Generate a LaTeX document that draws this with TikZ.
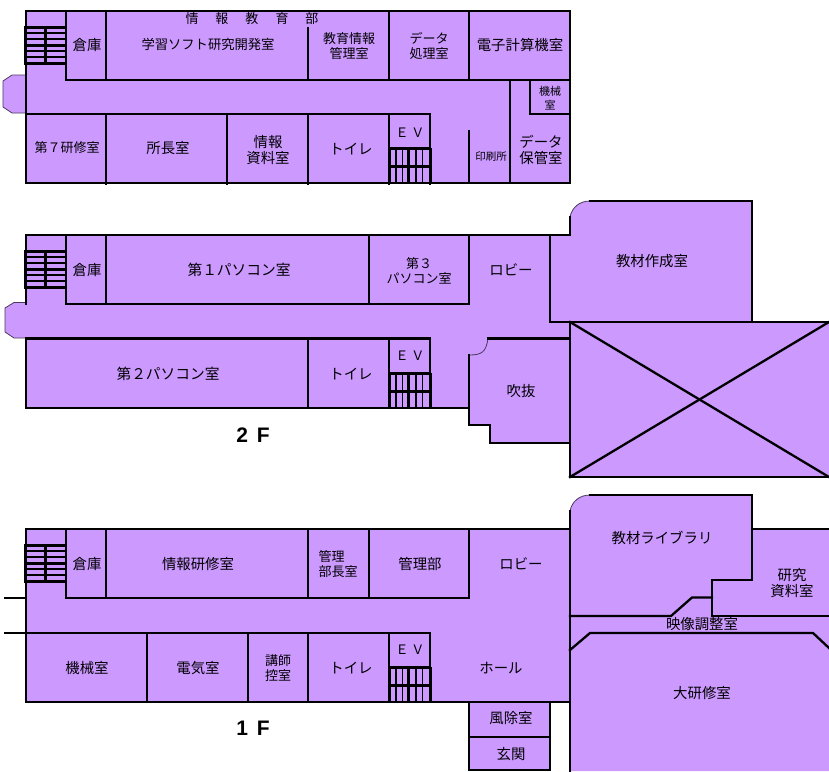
\documentclass[tikz,border=0pt]{standalone}
\usepackage{fontspec}
\setmainfont{Noto Sans CJK JP}
\newfontfamily\floorfont{Liberation Sans}[BoldFont={Liberation Sans Bold}]
\definecolor{roomcolor}{HTML}{CC99FF}
\definecolor{edgecolor}{HTML}{4A3A5C}
\newcommand{\fs}[2]{\fontsize{#1}{#2}\selectfont}

\begin{document}
\begin{tikzpicture}[x=1pt,y=-1pt]
\tikzstyle{wall}=[draw=black,line width=2.3pt,line cap=rect];
\tikzstyle{stairline}=[draw=black,line width=1.3pt];
\tikzstyle{stairbar}=[draw=black,line width=3pt];
\tikzstyle{rim}=[draw=edgecolor,line width=0.8pt];
\tikzstyle{room}=[font=\fs{13}{15},align=center,inner sep=0pt,text=black,yshift=-0.8pt];
\tikzstyle{big}=[room,font=\fs{14.4}{16}];
\tikzstyle{small}=[room,font=\fs{11}{14}];
\tikzstyle{floorname}=[font=\floorfont\bfseries\fs{21}{21},inner sep=0pt];
\useasboundingbox (0,0) rectangle (829,771);

% fills
\fill[roomcolor] (26,11) -- (570,11) -- (570,183) -- (26,183) -- (26,113) -- (12,113) -- (3,107) -- (3,81) -- (12,75) -- (26,75) -- cycle;
\fill[roomcolor] (26,235) -- (570,235) -- (570,217) .. controls (572,207) and (580,201) .. (590,201) -- (752,201) -- (752,322) -- (829,322) -- (829,477) -- (570,477) -- (570,443) -- (490,443) -- (490,425) -- (469,425) -- (469,408) -- (26,408) -- (26,338) -- (14,338) -- (5,332) -- (5,308) -- (14,302.5) -- (26,302.5) -- cycle;
\fill[roomcolor] (26,529) -- (570,529) -- (570,511) .. controls (572,501) and (580,495) .. (590,495) -- (752,495) -- (752,529) -- (829,529) -- (829,771) -- (570,771) -- (570,702) -- (550,702) -- (550,770) -- (469,770) -- (469,702) -- (26,702) -- cycle;

% bumps and curved corners
\draw[rim] (26,113) -- (12,113) -- (3,107) -- (3,81) -- (12,75) -- (26,75);
\draw[rim] (26,338) -- (14,338) -- (5,332) -- (5,308) -- (14,302.5) -- (26,302.5);
\draw[rim] (570,217) .. controls (572,207) and (580,201) .. (590,201);
\draw[rim] (570,511) .. controls (572,501) and (580,495) .. (590,495);
\draw[rim] (469,355) .. controls (482,355) and (486,352) .. (488,338.5);

% third floor walls
\draw[wall] (26,183) -- (26,11) -- (570,11) -- (570,183) -- cycle;
\draw[wall] (66,11) -- (66,80) -- (570,80);
\draw[wall] (26,114) -- (430,114) -- (430,184);
\draw[wall] (530,80) -- (530,114) -- (570,114);
\draw[wall] (510,80) -- (510,183);
\draw[wall] (469,131) -- (469,183);
\draw[wall] (308,28) -- (308,80);
\foreach \wx in {106,389,469} \draw[wall] (\wx,11) -- (\wx,80);
\foreach \wx in {106,227,308,389} \draw[wall] (\wx,114) -- (\wx,184);

% second floor walls
\draw[wall] (26,304) -- (26,235) -- (570,235) -- (570,217);
\draw[wall] (590,201) -- (752,201) -- (752,322) -- (550,322) -- (550,235);
\draw[wall] (66,235) -- (66,304) -- (369,304) -- (369,235);
\draw[wall] (106,235) -- (106,304);
\draw[wall] (369,304) -- (469,304) -- (469,235);
\draw[wall] (430,338.5) -- (26,338.5) -- (26,408) -- (469,408);
\draw[wall] (308,338.5) -- (308,408);
\draw[wall] (389,338.5) -- (389,408);
\draw[wall] (430,338.5) -- (430,408);
\draw[wall] (469,355) -- (469,425) -- (490,425) -- (490,443) -- (570,443);
\draw[wall] (488,338.5) -- (570,338.5);
\draw[wall] (570,322) -- (570,477) -- (829,477);
\draw[wall] (570,322) -- (829,322);
\draw[wall] (570,322) -- (829,477);
\draw[wall] (570,477) -- (829,322);

% first floor walls
\draw[wall] (26,702) -- (26,529) -- (570,529);
\draw[wall] (570,771) -- (570,511);
\draw[wall] (590,495) -- (752,495) -- (752,580) -- (712,580) -- (712,616);
\draw[wall] (752,529) -- (829,529);
\draw[wall] (66,529) -- (66,598) -- (469,598) -- (469,529);
\draw[wall] (5,598) -- (26,598);
\draw[wall] (5,633) -- (430,633) -- (430,702);
\foreach \wx in {106,308,369} \draw[wall] (\wx,529) -- (\wx,598);
\foreach \wx in {147,248,308,389} \draw[wall] (\wx,633) -- (\wx,702);
\draw[wall] (26,702) -- (570,702);
\draw[wall] (469,702) -- (469,770) -- (550,770) -- (550,702);
\draw[wall] (469,737) -- (550,737);
\draw[wall] (570,616) -- (671,616) -- (692,597.5) -- (712,597.5);
\draw[wall] (712,616) -- (829,616);
\draw[wall] (570,650) -- (590,633) -- (813,633) -- (829,648);

% stairs
\foreach \base in {11,235,529} {
	\foreach \dy in {22,28,40,46} \draw[stairline] (26,\base+\dy) -- (66,\base+\dy);
	\foreach \dy in {16,34,52} \draw[stairbar] (24,\base+\dy) -- (66,\base+\dy);
	\draw[stairbar] (25,\base+16) -- (25,\base+52);
	\draw[stairbar] (45,\base+16) -- (45,\base+52);
}
\foreach \base in {148,373,667} {
	\foreach \dx in {396,402.7,416,422.7} \draw[stairline] (\dx,\base) -- (\dx,\base+35);
	\draw[stairbar] (388,\base) -- (431,\base);
	\draw[stairbar] (388,\base+18) -- (431,\base+18);
	\draw[stairbar] (408.5,\base) -- (408.5,\base+35);
	\draw[stairbar] (389,\base) -- (389,\base+36);
	\draw[stairbar] (430,\base) -- (430,\base+36);
}

% third floor labels
\node[room] (dept) at (252,18) {情\hspace{17pt}報\hspace{17pt}教\hspace{17pt}育\hspace{17pt}部};
\node[big] (store3) at (87,44) {倉庫};
\node[room,font=\fs{13.3}{15}] (soft) at (208,44) {学習ソフト研究開発室};
\node[room] (edinfo) at (349,45) {教育情報\\管理室};
\node[room] (dataproc) at (429,45) {データ\\処理室};
\node[big] (computer) at (520,44) {電子計算機室};
\node[small] (machine3) at (550,97) {機械\\室};
\node[room] (seminar7) at (67,147) {第７研修室};
\node[big] (director) at (168,147) {所長室};
\node[big] (inforef) at (268,149) {情報\\資料室};
\node[big] (toilet3) at (351,148) {トイレ};
\node[room] (ev3) at (410,132) {Ｅ\hspace{3pt}Ｖ};
\node[room,font=\fs{10.5}{12}] (print) at (491,156) {印刷所};
\node[big] (datastore) at (541,149) {データ\\保管室};

% second floor labels
\node[big] (store2) at (87,269) {倉庫};
\node[big,font=\fs{14.7}{16}] (pc1) at (239,269) {第１パソコン室};
\node[room] (pc3) at (419,270) {第３\\パソコン室};
\node[big] (lobby2) at (511,269) {ロビー};
\node[big] (materials) at (652,260) {教材作成室};
\node[big,font=\fs{14.7}{16}] (pc2) at (168,373) {第２パソコン室};
\node[big] (toilet2) at (351,373) {トイレ};
\node[room] (ev2) at (410,355) {Ｅ\hspace{3pt}Ｖ};
\node[big] (atrium) at (521,390) {吹抜};
\node[floorname] (second) at (253,435) {2\hspace{9pt}F};

% first floor labels
\node[big] (store1) at (87,563) {倉庫};
\node[big] (seminar) at (198,563) {情報研修室};
\node[room,align=left] (manager) at (338,563) {管理\\部長室};
\node[big] (admin) at (420,563) {管理部};
\node[big] (lobby1) at (521,563) {ロビー};
\node[big] (machine1) at (87,667) {機械室};
\node[big] (electric) at (198,667) {電気室};
\node[room] (lecturer) at (278,667) {講師\\控室};
\node[big] (toilet1) at (351,667) {トイレ};
\node[room] (ev1) at (410,649) {Ｅ\hspace{3pt}Ｖ};
\node[big] (hall) at (501,667) {ホール};
\node[big] (vestibule) at (511,717) {風除室};
\node[big] (entrance) at (511,753) {玄関};
\node[big] (library) at (662,537) {教材ライブラリ};
\node[big] (research) at (792,582) {研究\\資料室};
\node[big] (video) at (702,623) {映像調整室};
\node[big] (lecture) at (702,692) {大研修室};
\node[floorname] (first) at (253,728) {1\hspace{9pt}F};
\end{tikzpicture}
\end{document}
